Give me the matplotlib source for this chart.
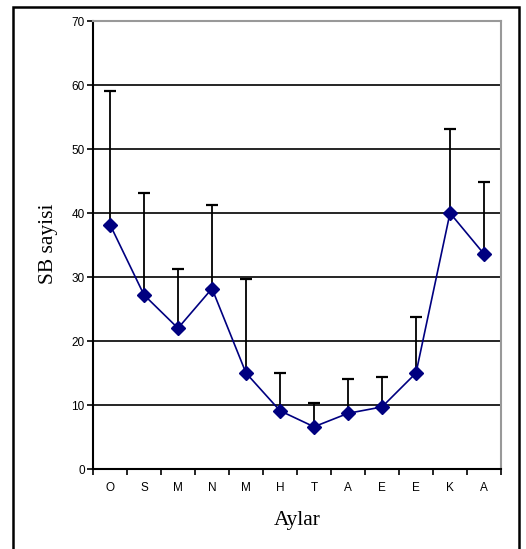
import matplotlib
matplotlib.use('Agg')
import matplotlib.pyplot as plt
from matplotlib.patches import Rectangle
import numpy as np

# aylar (months), mean SB counts and upper error
months = ['O', 'S', 'M', 'N', 'M', 'H', 'T', 'A', 'E', 'E', 'K', 'A']
means = [38.2, 27.2, 22.0, 28.2, 15.0, 9.1, 6.6, 8.7, 9.7, 15.0, 40.0, 33.6]
upper = [59.1, 43.2, 31.3, 41.2, 29.7, 15.0, 10.3, 14.1, 14.4, 23.8, 53.1, 44.8]
yticks = [0, 10, 20, 30, 40, 50, 60, 70]

navy = '#000080'

fig = plt.figure(figsize=(5.26, 5.49), dpi=100)
ax = fig.add_axes([0.1768, 0.1457, 0.7757, 0.816])

x = np.arange(len(months))
means = np.array(means)
err = np.array(upper) - means

# grid lines
for v in yticks[1:-1]:
    ax.axhline(v, color='black', linewidth=1.2, zorder=1)

ax.errorbar(x, means, yerr=[np.zeros_like(err), err], fmt='none',
            ecolor='black', elinewidth=1.3, capsize=4.5, capthick=1.6, zorder=2)
ax.plot(x, means, color=navy, linewidth=1.2, marker='D', markersize=7.5,
        markerfacecolor=navy, markeredgecolor=navy, zorder=3)

ax.set_xlim(-0.5, len(months) - 0.5)
ax.set_ylim(0, 70)
ax.set_yticks(yticks)
ax.set_yticklabels([str(v) for v in yticks], fontsize=8.5, family='Liberation Sans')

# category ticks between months, labels in the middle
ax.set_xticks(np.arange(-0.5, len(months), 1.0))
ax.set_xticklabels([])
ax.set_xticks(x, minor=True)
ax.set_xticklabels(months, minor=True, fontsize=8.5, family='Liberation Sans')
ax.tick_params(axis='x', which='major', direction='out', length=4, width=1.2)
ax.tick_params(axis='x', which='minor', length=0, pad=9)
ax.tick_params(axis='y', direction='out', length=4, width=1.2, pad=2)

ax.spines['left'].set_linewidth(1.5)
ax.spines['bottom'].set_linewidth(1.5)
ax.spines['top'].set_color('#999999')
ax.spines['right'].set_color('#999999')
ax.spines['top'].set_linewidth(1.5)
ax.spines['right'].set_linewidth(1.5)

fig.text(297 / 526, 1 - 521 / 549, 'Aylar', fontsize=15.5, family='Liberation Serif',
         ha='center', va='center')
fig.text(48.5 / 526, 1 - 244 / 549, 'SB sayisi', fontsize=15.5, family='Liberation Serif',
         ha='center', va='center', rotation=90)

# outer frame
frame = Rectangle((13 / 526, -0.02), (519 - 13) / 526, 1.02 - 7 / 549,
                  transform=fig.transFigure, fill=False, edgecolor='black',
                  linewidth=1.8, clip_on=False)
fig.patches.append(frame)

fig.savefig('out.png', dpi=100)
